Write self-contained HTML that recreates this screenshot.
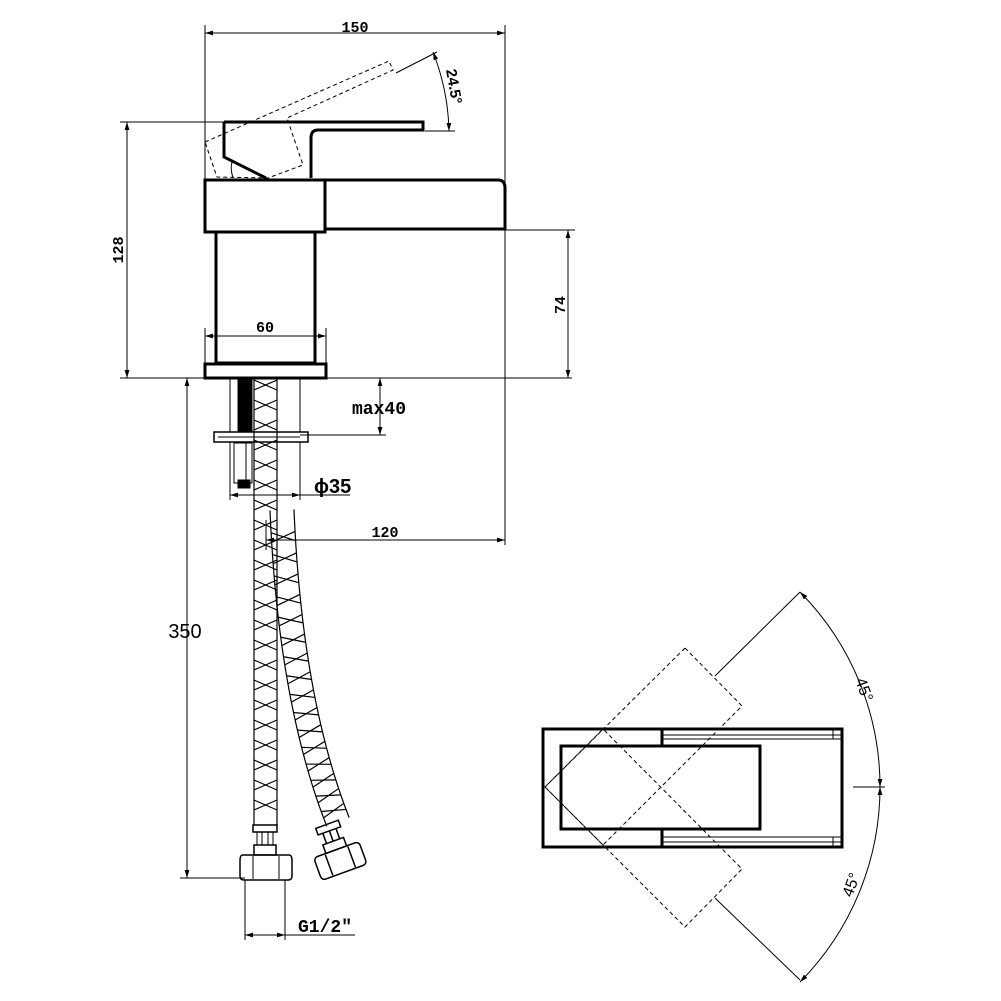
<!DOCTYPE html>
<html><head><meta charset="utf-8"><style>
html,body{margin:0;padding:0;background:#fff;width:1001px;height:1001px;overflow:hidden}
svg{display:block}
text{font-family:"Liberation Sans",sans-serif;fill:#000}
.m{font-family:"Liberation Mono",monospace}
</style></head><body>
<svg id="s" width="1001" height="1001" viewBox="0 0 1001 1001" xmlns="http://www.w3.org/2000/svg">
<defs>
<marker id="a" viewBox="0 0 10 10" refX="10" refY="5" markerWidth="8" markerHeight="8" orient="auto-start-reverse"><path d="M0,2 L10,5 L0,8z" fill="#000"/></marker>
</defs>
<g stroke="#000" fill="none" stroke-width="1">
<line x1="205" y1="25" x2="205" y2="180"/>
<line x1="505" y1="25" x2="505" y2="232"/>
<line x1="205" y1="33" x2="505" y2="33" marker-start="url(#a)" marker-end="url(#a)"/>
<line x1="120" y1="122" x2="224" y2="122"/>
<line x1="120" y1="378" x2="572" y2="378"/>
<line x1="127" y1="122" x2="127" y2="378" marker-start="url(#a)" marker-end="url(#a)"/>
<line x1="505" y1="230" x2="575" y2="230"/>
<line x1="568" y1="230" x2="568" y2="378" marker-start="url(#a)" marker-end="url(#a)"/>
<line x1="205" y1="328" x2="205" y2="364"/>
<line x1="326" y1="328" x2="326" y2="364"/>
<line x1="205" y1="336" x2="326" y2="336" marker-start="url(#a)" marker-end="url(#a)"/>
<line x1="396" y1="73" x2="437" y2="52"/>
<line x1="425" y1="131" x2="455" y2="131"/>
<path d="M433,52 A230,230 0 0 1 449,131" marker-start="url(#a)" marker-end="url(#a)"/>
<g stroke-dasharray="4,3">
<polygon points="205,142 389,61 393,70 287,118 303,165 268,178 217,177"/>
</g>
<g stroke-width="3">
<path d="M224,122 L423,122 L423,130 L318,130 Q311,130 311,138 L311,178"/>
<path d="M224,122 L224,157 L266,178"/>
</g>
<path d="M233,178 Q230,168 232,162"/>
<g stroke-width="3">
<rect x="205" y="180" width="120" height="52"/>
<path d="M325,180 L498,180 Q505,180 505,188 L505,229 L325,229"/>
<rect x="216" y="232" width="99" height="131"/>
<rect x="205" y="364" width="121" height="14"/>
</g>
<line x1="230" y1="378" x2="230" y2="432"/>
<line x1="300" y1="378" x2="300" y2="432"/>
<rect x="238" y="378" width="14" height="54" fill="#000"/>
<rect x="214" y="432" width="94" height="10" stroke-width="1.5"/>
<line x1="218" y1="437" x2="300" y2="437"/>
<rect x="234" y="443" width="18" height="40"/>
<line x1="246" y1="443" x2="246" y2="483"/>
<rect x="238" y="480" width="12" height="8" fill="#000"/>
<line x1="300" y1="435" x2="386" y2="435"/>
<line x1="380" y1="378" x2="380" y2="435" marker-start="url(#a)" marker-end="url(#a)"/>
<line x1="230" y1="442" x2="230" y2="500"/>
<line x1="300" y1="442" x2="300" y2="500"/>
<line x1="230" y1="495" x2="350" y2="495"/>
<line x1="230" y1="495" x2="245" y2="495" marker-start="url(#a)"/>
<line x1="285" y1="495" x2="300" y2="495" marker-end="url(#a)"/>
<line x1="505" y1="232" x2="505" y2="545"/>
<line x1="266" y1="520" x2="266" y2="550"/>
<line x1="266" y1="540" x2="505" y2="540" marker-start="url(#a)" marker-end="url(#a)"/>
<line x1="180" y1="878" x2="245" y2="878"/>
<line x1="187" y1="378" x2="187" y2="878" marker-start="url(#a)" marker-end="url(#a)"/>
<line x1="245" y1="880" x2="245" y2="940"/>
<line x1="285" y1="880" x2="285" y2="940"/>
<line x1="245" y1="935" x2="355" y2="935"/>
<line x1="245" y1="935" x2="258" y2="935" marker-start="url(#a)"/>
<line x1="272" y1="935" x2="285" y2="935" marker-end="url(#a)"/>
<g id="lh" stroke-width="1.2"></g>
<g id="rh" stroke-width="1.2"></g>
<rect x="253" y="825" width="24" height="7" stroke-width="1.5"/>
<line x1="257" y1="832" x2="257" y2="845"/><line x1="262" y1="832" x2="262" y2="845"/><line x1="268" y1="832" x2="268" y2="845"/><line x1="273" y1="832" x2="273" y2="845"/>
<rect x="254" y="845" width="22" height="10" stroke-width="1.5"/>
<path d="M243,855 L289,855 Q292,855 292,860 L292,876 Q292,880 288,880 L244,880 Q240,880 240,876 L240,860 Q240,855 243,855z" stroke-width="1.5"/>
<line x1="253" y1="856" x2="253" y2="879"/><line x1="279" y1="856" x2="279" y2="879"/>
<g transform="rotate(-20 340 860)" stroke-width="1.5">
<rect x="328" y="822" width="24" height="7"/>
<line x1="333" y1="829" x2="333" y2="840"/><line x1="340" y1="829" x2="340" y2="840"/><line x1="347" y1="829" x2="347" y2="840"/>
<rect x="329" y="840" width="22" height="9"/>
<rect x="316" y="849" width="48" height="24" rx="4"/>
<line x1="328" y1="850" x2="328" y2="872"/><line x1="352" y1="850" x2="352" y2="872"/>
</g>
<g stroke-width="3">
<path d="M662,746 L662,729 L543,729 L543,847 L662,847 L662,829"/>
<rect x="561" y="746" width="199" height="83"/>
<path d="M662,729 L842,729 L842,847 L662,847"/>
</g>
<line x1="662" y1="735" x2="842" y2="735"/><line x1="662" y1="739" x2="842" y2="739"/>
<line x1="662" y1="837" x2="842" y2="837"/><line x1="662" y1="842" x2="842" y2="842"/>
<line x1="833" y1="729" x2="833" y2="739"/><line x1="833" y1="837" x2="833" y2="847"/>
<g stroke-dasharray="4,3">
<polygon points="685,648 742,706 603,845 545,787"/>
<polygon points="545,787 603,729 742,869 685,927"/>
</g>
<line x1="715" y1="676" x2="800" y2="592"/>
<line x1="715" y1="898" x2="800" y2="980"/>
<path d="M800,592 A277,277 0 0 1 880,787" marker-start="url(#a)" marker-end="url(#a)"/>
<path d="M880,787 A277,277 0 0 1 800,982" marker-start="url(#a)" marker-end="url(#a)"/>
<line x1="853" y1="787" x2="885" y2="787"/>
</g>
<text x="355" y="32" font-size="15" text-anchor="middle" class="m" font-weight="bold">150</text>
<text x="265" y="332" font-size="15" text-anchor="middle" class="m" font-weight="bold">60</text>
<text transform="translate(123,250) rotate(-90)" font-size="15" text-anchor="middle" class="m" font-weight="bold">128</text>
<text transform="translate(565,305) rotate(-90)" font-size="15" text-anchor="middle" class="m" font-weight="bold">74</text>
<text transform="translate(446,70) rotate(80)" font-size="15" font-weight="bold">24.5°</text>
<text x="352" y="414" font-size="18" class="m" font-weight="bold">max40</text>
<text x="314" y="493" font-size="20" font-weight="bold">ϕ35</text>
<text x="385" y="537" font-size="15" text-anchor="middle" class="m" font-weight="bold">120</text>
<text x="185" y="638" font-size="20" text-anchor="middle">350</text>
<text x="298" y="932" font-size="18" class="m" font-weight="bold">G1/2″</text>
<text transform="translate(855,680) rotate(70)" font-size="16">45°</text>
<text transform="translate(852,898) rotate(-70)" font-size="16">45°</text>
</svg>
<script>
var NS="http://www.w3.org/2000/svg";
function ln(g,x1,y1,x2,y2){var l=document.createElementNS(NS,"line");l.setAttribute("x1",x1);l.setAttribute("y1",y1);l.setAttribute("x2",x2);l.setAttribute("y2",y2);g.appendChild(l);}
var lh=document.getElementById("lh");
ln(lh,254,378,254,825);ln(lh,277,378,277,825);
for(var y=380;y<820;y+=20){ln(lh,254,y,277,y+10);ln(lh,277,y,254,y+10);}
var rh=document.getElementById("rh");
function P(t){var x0=282,y0=510,cx=290,cy=700,x1=338,y1=822;var u=1-t;return[u*u*x0+2*u*t*cx+t*t*x1,u*u*y0+2*u*t*cy+t*t*y1];}
function N(t){var a=P(t-0.001),b=P(t+0.001);var dx=b[0]-a[0],dy=b[1]-a[1],L=Math.hypot(dx,dy);return[-dy/L,dx/L];}
var w=12,pl=[],pr=[];
for(var i=0;i<=60;i++){var t=i/60,p=P(t),n=N(Math.min(Math.max(t,0.002),0.998));pl.push((p[0]-n[0]*w)+","+(p[1]-n[1]*w));pr.push((p[0]+n[0]*w)+","+(p[1]+n[1]*w));}
[pl,pr].forEach(function(a){var q=document.createElementNS(NS,"polyline");q.setAttribute("points",a.join(" "));rh.appendChild(q);});
for(var i=1;i<17;i++){var t=i/17,p=P(t),n=N(t),t2=t+0.025,p2=P(t2),n2=N(t2);
ln(rh,p[0]-n[0]*w,p[1]-n[1]*w,p2[0]+n2[0]*w,p2[1]+n2[1]*w);ln(rh,p[0]+n[0]*w,p[1]+n[1]*w,p2[0]-n2[0]*w,p2[1]-n2[1]*w);}
</script>
</body></html>
